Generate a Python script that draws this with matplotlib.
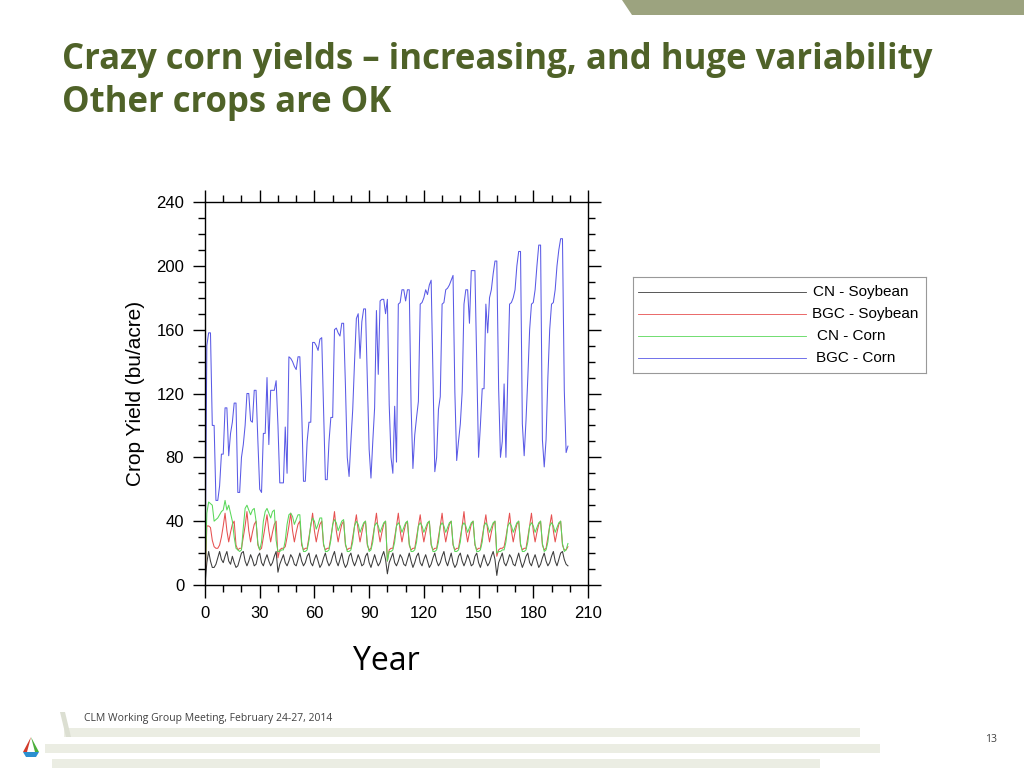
import matplotlib
matplotlib.use('Agg')
import matplotlib.pyplot as plt
from matplotlib.ticker import MultipleLocator
from matplotlib.patches import Polygon, Rectangle
from matplotlib.lines import Line2D

# ---- data (annual model output, years 0..199) ----
years = list(range(200))

cn_soybean = [
    0, 14, 21, 15, 11, 11, 13, 17, 21, 16,
    14, 18, 21, 15, 13, 18, 14, 11, 12, 16,
    20, 21, 15, 12, 15, 19, 16, 12, 13, 18,
    20, 14, 12, 16, 19, 15, 12, 14, 18, 21,
    8, 13, 16, 19, 14, 12, 15, 19, 17, 13,
    12, 16, 20, 15, 12, 14, 18, 20, 14, 12,
    16, 19, 15, 11, 13, 17, 20, 15, 12, 14,
    18, 21, 15, 12, 16, 20, 14, 11, 13, 18,
    20, 15, 12, 15, 19, 16, 12, 13, 18, 20,
    14, 11, 15, 19, 15, 12, 14, 18, 21, 16,
    7, 14, 17, 20, 14, 12, 15, 19, 17, 13,
    12, 16, 20, 15, 11, 14, 18, 20, 14, 12,
    16, 19, 15, 11, 13, 17, 20, 15, 12, 14,
    18, 21, 15, 12, 16, 20, 14, 11, 13, 18,
    20, 15, 12, 15, 19, 16, 12, 13, 18, 20,
    14, 11, 15, 19, 15, 12, 14, 18, 21, 16,
    6, 14, 17, 20, 14, 12, 15, 19, 17, 13,
    12, 16, 20, 15, 11, 14, 18, 20, 14, 12,
    16, 19, 15, 11, 13, 17, 20, 15, 12, 14,
    18, 21, 15, 12, 16, 20, 21, 16, 13, 12,
]

bgc_soybean = [
    0, 37, 37, 36, 28, 24, 23, 23, 25, 30,
    37, 45, 34, 27, 33, 38, 40, 25, 22, 23,
    23, 30, 37, 46, 34, 27, 33, 38, 40, 25,
    22, 23, 30, 37, 44, 34, 27, 33, 38, 40,
    17, 22, 23, 23, 24, 30, 37, 45, 34, 27,
    33, 38, 40, 25, 22, 23, 23, 30, 37, 45,
    34, 27, 33, 38, 40, 25, 22, 23, 23, 30,
    37, 46, 34, 27, 33, 38, 40, 25, 22, 23,
    23, 30, 37, 44, 34, 27, 33, 38, 40, 25,
    22, 23, 30, 37, 45, 34, 27, 33, 38, 40,
    15, 22, 23, 23, 30, 37, 45, 34, 27, 33,
    38, 40, 25, 22, 23, 23, 30, 37, 44, 34,
    27, 33, 38, 40, 25, 22, 23, 23, 30, 37,
    45, 34, 27, 33, 38, 40, 25, 22, 23, 23,
    30, 37, 46, 34, 27, 33, 38, 40, 25, 22,
    23, 23, 30, 37, 44, 34, 27, 33, 38, 40,
    18, 22, 23, 23, 24, 30, 37, 45, 34, 27,
    33, 38, 40, 25, 22, 23, 23, 30, 37, 45,
    34, 27, 33, 38, 40, 25, 22, 23, 30, 37,
    44, 34, 27, 33, 38, 40, 25, 22, 22, 24,
]

cn_corn = [
    0, 45, 52, 51, 50, 40, 41, 42, 44, 46,
    47, 53, 47, 50, 45, 40, 30, 23, 22, 21,
    22, 36, 48, 50, 47, 44, 47, 48, 40, 26,
    22, 27, 40, 46, 48, 45, 42, 46, 47, 28,
    21, 21, 22, 22, 28, 38, 44, 45, 43, 38,
    41, 44, 44, 27, 21, 21, 22, 28, 38, 42,
    40, 35, 38, 42, 42, 26, 21, 21, 22, 28,
    38, 41, 39, 34, 37, 40, 41, 26, 21, 21,
    22, 27, 37, 40, 38, 33, 36, 39, 40, 26,
    21, 22, 27, 37, 39, 37, 33, 36, 39, 40,
    15, 21, 21, 22, 27, 37, 39, 37, 33, 36,
    39, 40, 26, 21, 21, 22, 27, 37, 39, 37,
    33, 36, 39, 40, 26, 21, 21, 22, 27, 37,
    39, 37, 33, 36, 39, 40, 26, 21, 21, 22,
    27, 37, 39, 37, 33, 36, 39, 40, 26, 21,
    21, 22, 27, 37, 39, 37, 33, 36, 39, 40,
    20, 21, 21, 22, 22, 27, 37, 39, 37, 33,
    36, 39, 40, 26, 21, 21, 22, 27, 37, 39,
    37, 33, 36, 39, 40, 26, 21, 22, 27, 37,
    39, 37, 33, 36, 39, 40, 26, 21, 22, 26,
]

bgc_corn = [
    0, 150, 158, 158, 100, 100, 53, 53, 62, 82,
    82, 111, 111, 81, 95, 102, 114, 114, 58, 58,
    80, 88, 100, 120, 120, 103, 102, 122, 122, 90,
    60, 58, 95, 95, 130, 88, 122, 122, 122, 128,
    100, 64, 64, 64, 99, 70, 143, 142, 140, 137,
    135, 143, 143, 110, 65, 65, 90, 102, 102, 152,
    152, 150, 147, 154, 155, 110, 66, 66, 90, 105,
    105, 160, 161, 158, 156, 164, 164, 125, 80, 68,
    90, 110, 140, 167, 170, 142, 165, 173, 173, 130,
    85, 67, 90, 111, 172, 132, 178, 179, 179, 170,
    179, 113, 80, 70, 112, 77, 176, 177, 185, 185,
    178, 185, 185, 112, 73, 94, 105, 115, 176, 177,
    180, 185, 182, 188, 191, 130, 71, 80, 110, 118,
    176, 177, 185, 186, 188, 191, 194, 121, 78, 90,
    101, 121, 176, 185, 185, 164, 197, 197, 197, 140,
    80, 100, 123, 123, 176, 158, 180, 185, 195, 203,
    203, 123, 80, 90, 126, 80, 130, 176, 177, 180,
    185, 200, 209, 209, 101, 81, 103, 130, 160, 176,
    177, 185, 200, 213, 213, 91, 74, 91, 130, 160,
    176, 177, 185, 200, 210, 217, 217, 122, 83, 87,
]

series = [cn_soybean, bgc_soybean, cn_corn, bgc_corn]
series_names = ['CN - Soybean', 'BGC - Soybean', 'CN - Corn', 'BGC - Corn']
series_colors = ['#3c3c3c', '#e65050', '#5ad85a', '#5a5ae6']

x_ticks = [0, 30, 60, 90, 120, 150, 180, 210]
y_ticks = [0, 40, 80, 120, 160, 200, 240]

title_lines = ['Crazy corn yields \u2013 increasing, and huge variability',
               'Other crops are OK']
footer_text = 'CLM Working Group Meeting, February 24-27, 2014'
page_number = '13'

# ---- figure ----
fig = plt.figure(figsize=(10.24, 7.68), dpi=100)
W, H = 1024.0, 768.0

# slide decoration: top right band
fig.patches.append(Polygon([[622 / W, 1.0], [1.0, 1.0], [1.0, 1 - 15 / H], [632 / W, 1 - 15 / H]],
                           closed=True, transform=fig.transFigure,
                           facecolor='#9ca37f', edgecolor='none'))

# footer bars
for (x0, x1, y0, y1) in [(64, 860, 728, 737), (45, 880, 744, 753), (52, 820, 759, 768)]:
    fig.patches.append(Rectangle((x0 / W, 1 - y1 / H), (x1 - x0) / W, (y1 - y0) / H,
                                 transform=fig.transFigure, facecolor='#ebede3',
                                 edgecolor='none'))
fig.patches.append(Polygon([[60 / W, 1 - 712 / H], [65 / W, 1 - 712 / H],
                            [71 / W, 1 - 737 / H], [66 / W, 1 - 737 / H]],
                           closed=True, transform=fig.transFigure,
                           facecolor='#dcdfd2', edgecolor='none'))

# small logo triangle
fig.patches.append(Polygon([[31 / W, 1 - 737 / H], [23 / W, 1 - 752 / H], [27 / W, 1 - 752 / H]],
                           closed=True, transform=fig.transFigure, facecolor='#d23a2a'))
fig.patches.append(Polygon([[31 / W, 1 - 737 / H], [39 / W, 1 - 752 / H], [35 / W, 1 - 752 / H]],
                           closed=True, transform=fig.transFigure, facecolor='#4caf3c'))
fig.patches.append(Polygon([[23 / W, 1 - 752 / H], [39 / W, 1 - 752 / H], [36 / W, 1 - 757 / H],
                            [26 / W, 1 - 757 / H]],
                           closed=True, transform=fig.transFigure, facecolor='#2b8fd0'))

# title
fig.text(62 / W, 1 - 60 / H, title_lines[0], fontsize=25, fontweight='bold',
         family='Open Sans', color='#4f6228', va='center', ha='left')
fig.text(62 / W, 1 - 103 / H, title_lines[1], fontsize=25, fontweight='bold',
         family='Open Sans', color='#4f6228', va='center', ha='left')

fig.text(84 / W, 1 - 719 / H, footer_text, fontsize=7.5, family='Open Sans',
         color='#404040', va='center', ha='left')
fig.text(997 / W, 1 - 739 / H, page_number, fontsize=7.5, family='Open Sans',
         color='#404040', va='center', ha='right')

# ---- main axes ----
ax = fig.add_axes([205 / W, 1 - 585 / H, 383 / W, 383 / H])
for vals, col in zip(series, series_colors):
    ax.plot(years, vals, color=col, lw=0.75)

ax.set_xlim(0, 210)
ax.set_ylim(0, 240)
ax.set_xticks(x_ticks)
ax.set_yticks(y_ticks)
ax.xaxis.set_minor_locator(MultipleLocator(10))
ax.yaxis.set_minor_locator(MultipleLocator(10))
ax.tick_params(which='both', direction='out', top=True, right=True,
               labeltop=False, labelright=False, color='black', width=1)
ax.tick_params(which='major', length=9, labelsize=12, pad=6)
ax.tick_params(which='minor', length=5)
for lab in ax.get_xticklabels() + ax.get_yticklabels():
    lab.set_family('Liberation Sans')
for sp in ax.spines.values():
    sp.set_linewidth(1.0)

ax.set_ylabel('Crop Yield (bu/acre)', fontsize=15, family='Liberation Sans', labelpad=8)
fig.text(386 / W, 1 - 662 / H, 'Year', fontsize=23, family='Open Sans',
         color='black', va='center', ha='center')

# ---- legend box ----
lax = fig.add_axes([633 / W, 1 - 373 / H, 293 / W, 96 / H])
lax.set_xlim(633, 926)
lax.set_ylim(373, 277)
lax.set_xticks([])
lax.set_yticks([])
for sp in lax.spines.values():
    sp.set_color('#999999')
    sp.set_linewidth(0.8)
row_y = [292, 314, 336, 358]
label_x = [813, 812, 817, 816]
for name, col, yy, lx in zip(series_names, series_colors, row_y, label_x):
    lax.add_line(Line2D([638, 806], [yy, yy], color=col, lw=0.6))
    lax.text(lx, yy, name, fontsize=11, family='Liberation Sans', va='center', ha='left')

fig.savefig('out.png', dpi=100)
